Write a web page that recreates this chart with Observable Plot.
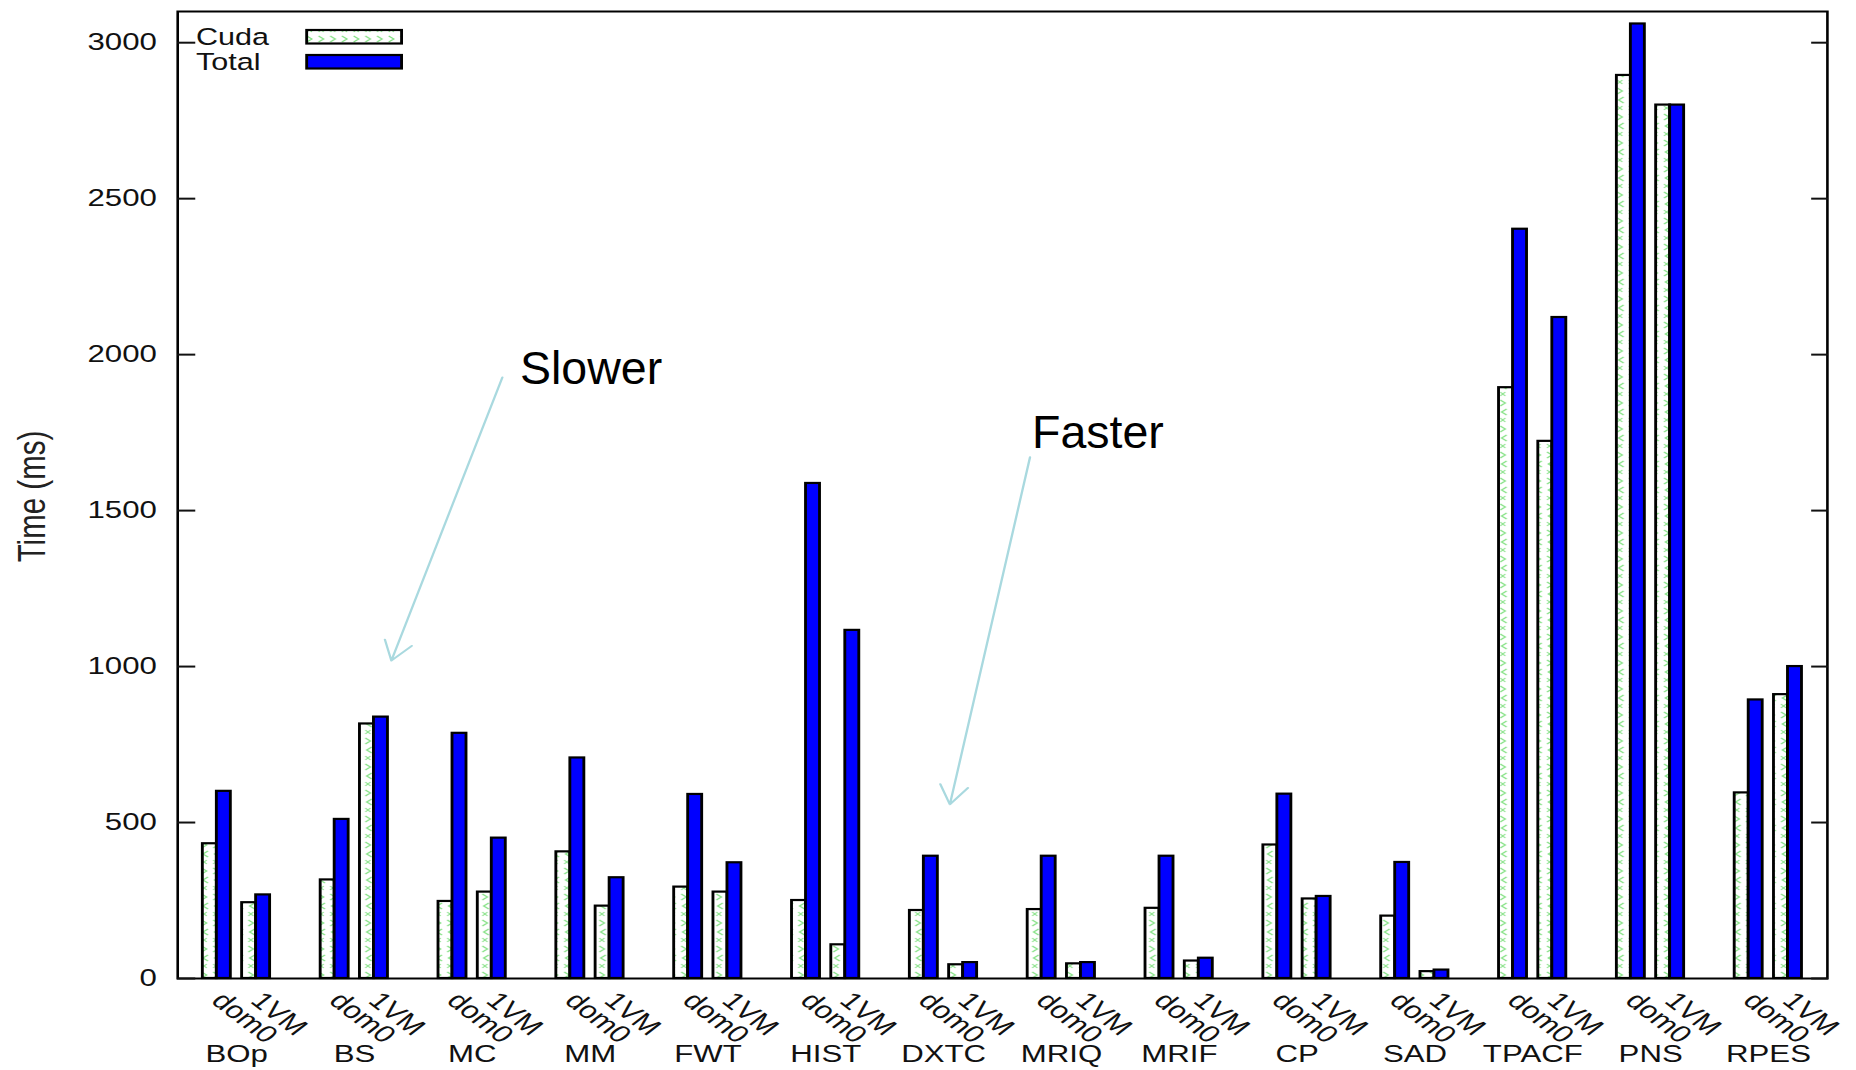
<!DOCTYPE html>
<html><head><meta charset="utf-8">
<script src="https://cdn.jsdelivr.net/npm/d3@7"></script>
<script src="https://cdn.jsdelivr.net/npm/@observablehq/plot@0.6"></script>
<style>html,body{margin:0;padding:0;background:#fff;} #chart{width:1856px;height:1070px;overflow:hidden}</style>
</head><body><div id="chart"></div>
<script>
// ---- data ----
const benchmarks = ["BOp","BS","MC","MM","FWT","HIST","DXTC","MRIQ","MRIF","CP","SAD","TPACF","PNS","RPES"];
const configs = ["dom0","1VM"];
const series = ["Cuda","Total"];
const cudaDom0  = [432,316,247,406,293,250,218,221,225,428,200,1894,2895,595];
const totalDom0 = [600,510,786,707,590,1587,392,392,392,591,372,2402,3060,893];
const cuda1VM   = [243,816,277,232,277,108,44,47,56,255,22,1722,2800,910];
const total1VM  = [268,838,450,323,371,1116,51,51,65,263,27,2119,2800,1000];
const yTicks = [0,500,1000,1500,2000,2500,3000];
const yLabel = "Time (ms)";
const annotations = [
  {text:"Slower", x:2.905, y:1954, x1:2.755, y1:1927, x2:1.813, y2:1019},
  {text:"Faster", x:7.25,  y:1749, x1:7.233, y1:1671, x2:6.553, y2:558}
];

// ---- layout ----
const S = 1.3, W = 1856, H = 1070, W0 = W / S;
const mL = 136.2, mR = W0 - 1405.2, mT = 11, mB = 92;
const BAR = 0.1188;
const FONT = "'Liberation Sans', Arial, Helvetica, sans-serif";

const values = {dom0: {Cuda: cudaDom0, Total: totalDom0}, "1VM": {Cuda: cuda1VM, Total: total1VM}};
const rows = [];
benchmarks.forEach((b, i) => configs.forEach((c, j) => series.forEach((s, k) => {
  const center = i + (j + 1) / 3;
  rows.push({benchmark: b, config: c, series: s, value: values[c][s][i],
             x1: center + (k - 1) * BAR, x2: center + k * BAR});
})));
const cfgLabels = benchmarks.flatMap((b, i) => configs.map((c, j) => ({label: c, x: i + (j + 1) / 3})));

const chart = Plot.plot({
  width: W0, height: H,
  marginLeft: mL, marginRight: mR, marginTop: mT, marginBottom: mB,
  style: {fontFamily: FONT, fontSize: "23.5px", color: "#111", background: "#fff", overflow: "visible"},
  x: {type: "linear", domain: [0, benchmarks.length], axis: null},
  y: {domain: [0, 3100], axis: null},
  marks: [
    Plot.rectY(rows.filter(d => d.series === "Cuda"), {x1: "x1", x2: "x2", y1: 0, y2: "value", fill: "url(#cudaPattern)", stroke: "#000", strokeWidth: 2.2}),
    Plot.rectY(rows.filter(d => d.series === "Total"), {x1: "x1", x2: "x2", y1: 0, y2: "value", fill: "#0000ff", stroke: "#000", strokeWidth: 2.2}),
    Plot.frame({stroke: "#000", strokeWidth: 2}),
    Plot.axisY({ticks: yTicks, anchor: "left", tickSize: -14, tickPadding: 30, strokeWidth: 2, fontSize: 24, fill: "#111", label: null, tickFormat: d => String(d)}),
    Plot.axisY({ticks: yTicks, anchor: "right", tickSize: -13, strokeWidth: 2, tickFormat: () => "", label: null}),
    Plot.text(cfgLabels, {x: "x", y: 0, text: "label", rotate: 45, textAnchor: "start", lineAnchor: "middle", dy: 18, fontSize: 24, fill: "#111"}),
    Plot.text(benchmarks, {x: (d, i) => i + 0.5, y: 0, text: d => d, dy: 76, fontSize: 24, fill: "#111"}),
    Plot.text([yLabel], {frameAnchor: "left", text: d => d, rotate: -90, textAnchor: "middle", lineAnchor: "middle", dx: -111.6, dy: 1.5, fontSize: 29.5, fill: "#222"}),
    Plot.arrow(annotations, {x1: "x1", y1: "y1", x2: "x2", y2: "y2", stroke: "#a9d9df", strokeWidth: 1.8, headLength: 18, headAngle: 60}),
    Plot.text(annotations, {x: "x", y: "y", text: "text", textAnchor: "start", lineAnchor: "middle", fontSize: 46.5, fill: "#000"})
  ]
});

// stretch horizontally like the reference image
chart.setAttribute("width", W);
chart.setAttribute("height", H);
chart.setAttribute("viewBox", `0 0 ${W0} ${H}`);
chart.setAttribute("preserveAspectRatio", "none");
chart.style.width = W + "px";
chart.style.height = H + "px";
chart.style.maxWidth = "none";

const svg = d3.select(chart);
const defs = svg.insert("defs", ":first-child");
const pat = defs.append("pattern").attr("id", "cudaPattern")
  .attr("patternUnits", "userSpaceOnUse").attr("width", 9).attr("height", 26);
pat.append("rect").attr("width", 9).attr("height", 26).attr("fill", "#fff");
pat.append("path")
  .attr("d", "M2,2 L6,6 M6,2 L2,6 M2,10 L6,13 L2,16 M7,19 L3,22 L7,25")
  .attr("stroke", "#7fe07f").attr("stroke-width", 1).attr("fill", "none");

// legend
const legendFill = {Cuda: "url(#cudaPattern)", Total: "#0000ff"};
const lg = svg.append("g").attr("font-family", FONT).attr("font-size", 23.5).attr("fill", "#111").attr("text-anchor", "start");
series.forEach((s, k) => {
  const base = 45 + k * 25;
  lg.append("text").attr("x", mL + 14.6).attr("y", base).attr("text-anchor", "start").text(s);
  lg.append("rect").attr("x", mL + 99.7).attr("y", base - 15).attr("width", 73).attr("height", 13.5)
    .attr("fill", legendFill[s]).attr("stroke", "#000").attr("stroke-width", 2.2);
});

// annotation text was drawn unstretched in the reference: counter-scale it
svg.selectAll("text").filter(function () { return annotations.some(a => a.text === this.textContent); })
  .each(function () {
    const x = +this.getAttribute("x") || 0, y = +this.getAttribute("y") || 0;
    const t = this.getAttribute("transform") || "";
    this.setAttribute("transform", `${t} translate(${x},${y}) scale(${1 / S},1) translate(${-x},${-y})`);
  });

document.getElementById("chart").appendChild(chart);
</script>
</body></html>
